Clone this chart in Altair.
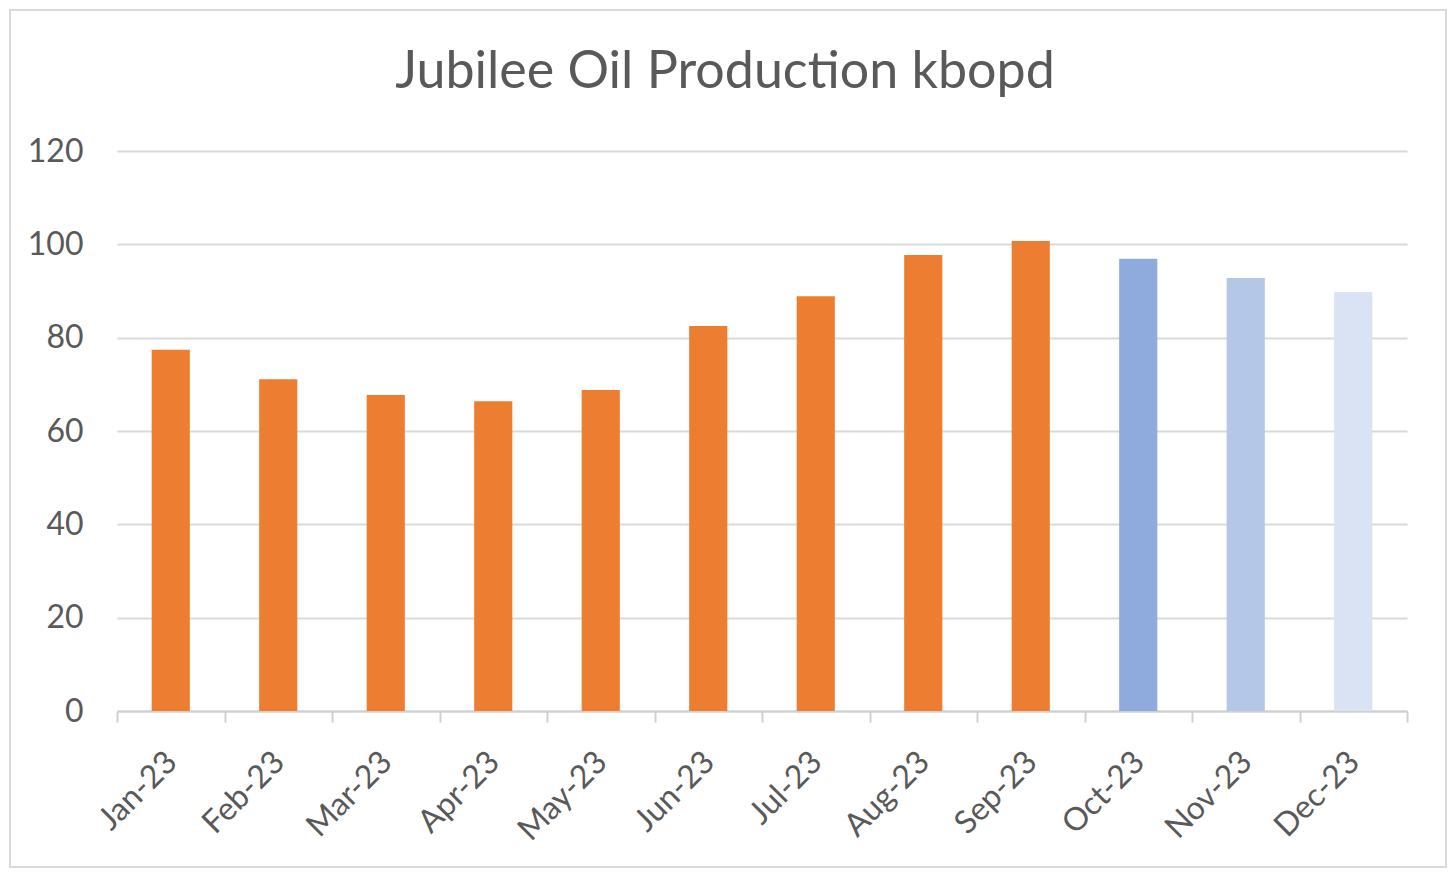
import altair as alt
import pandas as pd

months = ["Jan-23", "Feb-23", "Mar-23", "Apr-23", "May-23", "Jun-23",
          "Jul-23", "Aug-23", "Sep-23", "Oct-23", "Nov-23", "Dec-23"]
values = [77.4, 71.1, 67.7, 66.4, 68.8, 82.5, 88.9, 97.7, 100.7, 96.9, 92.8, 89.8]
colors = ["#ED7D31"] * 9 + ["#8FAADC", "#B4C7E7", "#DAE3F3"]

df = pd.DataFrame({"month": months, "value": values, "color": colors})

W, H = 1290, 560
PAD = {"left": 109, "top": 143, "right": 41, "bottom": 158}

bars = alt.Chart(df).mark_bar(width=alt.RelativeBandSize(0.355)).encode(
    x=alt.X("month:N", sort=months, title=None,
            scale=alt.Scale(paddingInner=0, paddingOuter=0),
            axis=alt.Axis(labelAngle=-45, labelFont="Lato", labelFontSize=32,
                          labelColor="#595959", tickBand="extent", tickSize=11,
                          tickColor="#d0d0d0", tickWidth=2, domainColor="#d0d0d0",
                          domainWidth=2, labelPadding=24, labelOffset=-10, grid=False)),
    y=alt.Y("value:Q", title=None,
            scale=alt.Scale(domain=[0, 120]),
            axis=alt.Axis(values=[0, 20, 40, 60, 80, 100, 120], labelFont="Lato",
                          labelFontSize=32, labelColor="#595959", domain=False,
                          ticks=False, labelPadding=34, gridColor="#d9d9d9",
                          gridWidth=2)),
    color=alt.Color("color:N", scale=None),
)

border = alt.Chart(df).mark_rect(fill=None, stroke="#d9d9d9", strokeWidth=2, clip=False).encode(
    x=alt.value(-107), x2=alt.value(W + PAD["right"] - 2),
    y=alt.value(-141), y2=alt.value(H + PAD["bottom"] - 2),
)

chart = alt.layer(bars, border).properties(
    width=W, height=H,
    title=alt.TitleParams("Jubilee Oil Production kbopd", font="Lato", fontSize=52,
                          fontWeight="normal", color="#595959", offset=0, dy=90,
                          dx=-37, anchor="middle"),
    autosize=alt.AutoSizeParams(type="none"),
    padding=PAD,
).configure(background="white", view=alt.ViewConfig(stroke="transparent", strokeWidth=0))

chart.save("out.html", embed_options={"renderer": "svg", "actions": False})
